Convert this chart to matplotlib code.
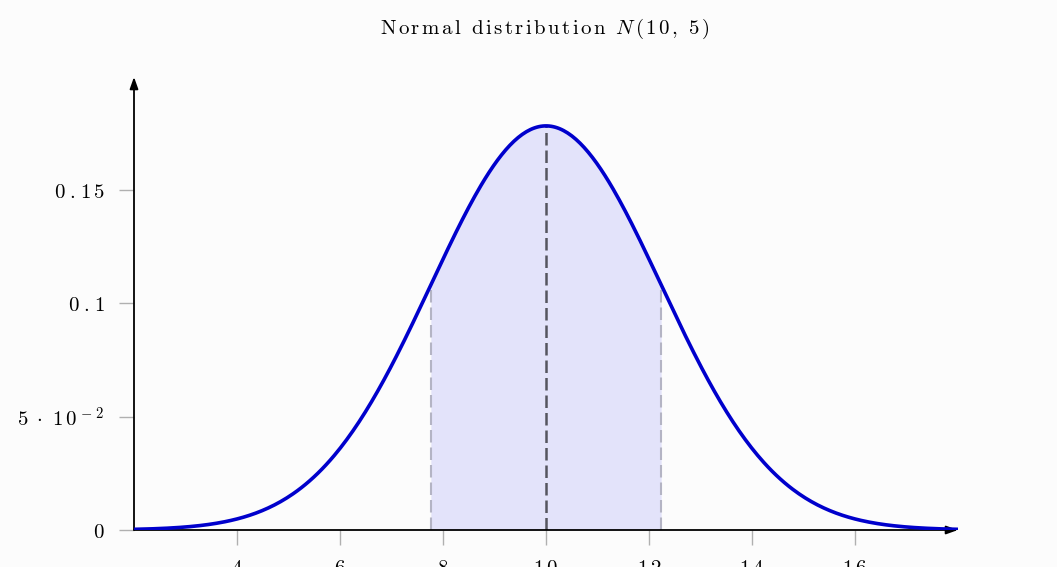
import numpy as np
import matplotlib.pyplot as plt

plt.rcParams["mathtext.fontset"] = "cm"
plt.rcParams["font.family"] = "serif"

# distribution parameters N(mean, variance)
MEAN = 10
VARIANCE = 5
X_RANGE = [2, 18]
Y_MAX = 0.2

X_TICKS = [4, 6, 8, 10, 12, 14, 16]
Y_TICKS = [0, 0.05, 0.1, 0.15]

BLUE = "#0000cc"
FILL = "#e3e3fa"


def tracked(tokens, gap):
    # TeX at small optical size is loosely tracked; mimic with small spaces
    return "$" + (r"\hspace{%.3f}" % gap).join(tokens) + "$"


def rm(text):
    out = []
    for ch in text:
        if ch == " ":
            out.append(r"\ ")
        elif ch == ".":
            out.append(r"\hspace{0.1}\mathrm{.}\hspace{-0.08}")
        else:
            out.append(r"\mathrm{%s}" % ch)
    return out


Y_TICK_LABELS = [
    tracked(rm("0"), 0.17),
    tracked(["5", r"\hspace{0.15}\cdot\hspace{0.15}", "1",
             r"0^{\hspace{0.05}-\hspace{0.12}2}"], 0.17),
    tracked(rm("0.1"), 0.17),
    tracked(rm("0.15"), 0.17),
]
X_TICK_LABELS = [tracked(rm(str(t)), 0.17) for t in X_TICKS]
TITLE = tracked(rm("Normal distribution ") + ["N"] + rm("(10, 5)"), 0.135)


def pdf(x):
    return np.exp(-(x - MEAN) ** 2 / (2 * VARIANCE)) / np.sqrt(2 * np.pi * VARIANCE)


sigma = np.sqrt(VARIANCE)
xs = np.linspace(X_RANGE[0], X_RANGE[1], 400)
lo, hi = MEAN - sigma, MEAN + sigma
xf = np.linspace(lo, hi, 200)

fig = plt.figure(figsize=(10.57, 5.67), dpi=100)
fig.patch.set_facecolor("#fcfcfc")
ax = fig.add_axes([134 / 1057, 37 / 567, 824 / 1057, 453 / 567])
ax.set_facecolor("none")

ax.fill_between(xf, 0, pdf(xf), color=FILL, linewidth=0, zorder=1)
for xv in (lo, hi):
    ax.plot([xv, xv], [0, pdf(xv)], color="#b4b4c4", lw=1.5,
            dashes=(6, 2.4), zorder=2)
ax.plot([MEAN, MEAN], [0, pdf(MEAN)], color="#55555f", lw=1.8,
        dashes=(5, 2), zorder=2)
ax.plot(xs, pdf(xs), color=BLUE, lw=2.6, zorder=4, solid_capstyle="round")

# axes drawn as arrows
for end in [(X_RANGE[1], 0), (X_RANGE[0], Y_MAX)]:
    ax.annotate("", xy=end, xytext=(X_RANGE[0], 0),
                arrowprops=dict(arrowstyle="-|>,head_length=0.7,head_width=0.25",
                                color="black", lw=1.3, shrinkA=0, shrinkB=0),
                zorder=3)

ax.set_xlim(X_RANGE)
ax.set_ylim(0, Y_MAX)
for s in ax.spines.values():
    s.set_visible(False)

ax.set_xticks(X_TICKS)
ax.set_xticklabels(X_TICK_LABELS)
ax.set_yticks(Y_TICKS)
ax.set_yticklabels(Y_TICK_LABELS)
ax.tick_params(direction="out", length=11, width=1.0, color="#b0b0b0",
               labelsize=15, pad=10)

fig.text(545 / 1057, 1 - 29 / 567, TITLE, ha="center", va="center",
         fontsize=15)

fig.savefig("out.png", dpi=100, facecolor=fig.get_facecolor())
